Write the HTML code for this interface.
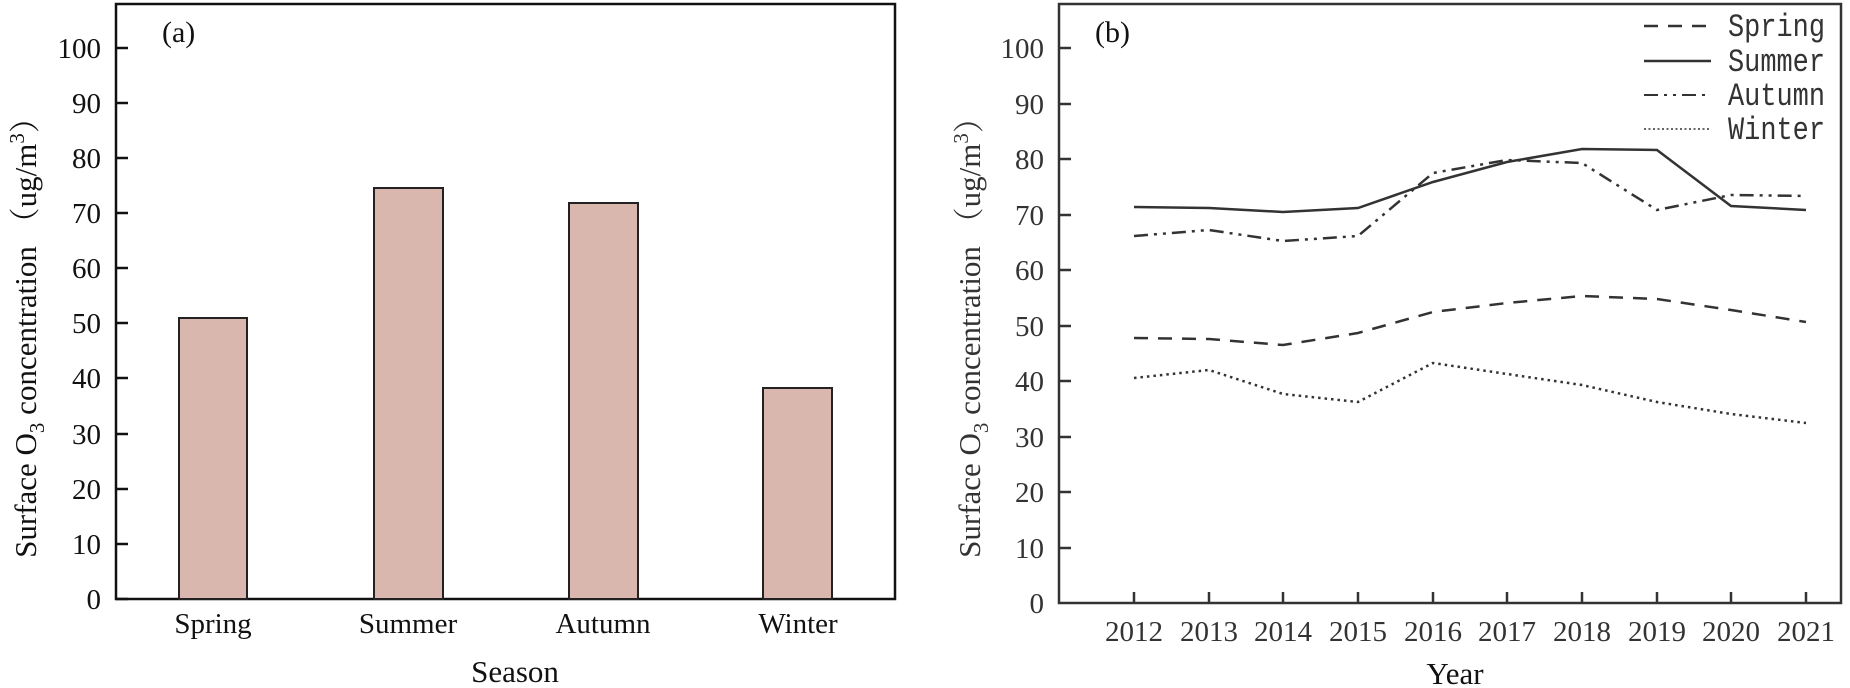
<!DOCTYPE html>
<html><head><meta charset="utf-8"><style>body{margin:0;background:#fff}svg{display:block}</style></head><body>
<svg width="1850" height="688" viewBox="0 0 1850 688" xmlns="http://www.w3.org/2000/svg">
<g font-family="'Liberation Serif','Noto Serif CJK SC',serif" fill="#111">
<!-- Panel a -->
<rect x="116" y="4" width="779" height="595" fill="none" stroke="#111" stroke-width="2.5"/>
<g stroke="#111" stroke-width="2.5">
<line x1="116" y1="599" x2="128" y2="599"/><line x1="116" y1="544" x2="128" y2="544"/><line x1="116" y1="489" x2="128" y2="489"/><line x1="116" y1="434" x2="128" y2="434"/><line x1="116" y1="378" x2="128" y2="378"/><line x1="116" y1="323" x2="128" y2="323"/><line x1="116" y1="268" x2="128" y2="268"/><line x1="116" y1="213" x2="128" y2="213"/><line x1="116" y1="158" x2="128" y2="158"/><line x1="116" y1="103" x2="128" y2="103"/><line x1="116" y1="48" x2="128" y2="48"/>
</g>
<g font-size="29" text-anchor="end">
<text x="101" y="609">0</text><text x="101" y="554">10</text><text x="101" y="499">20</text><text x="101" y="444">30</text><text x="101" y="388">40</text><text x="101" y="333">50</text><text x="101" y="278">60</text><text x="101" y="223">70</text><text x="101" y="168">80</text><text x="101" y="113">90</text><text x="101" y="58">100</text>
</g>
<g fill="#d9b6ae" stroke="#222" stroke-width="2">
<rect x="179" y="318" width="68" height="281"/>
<rect x="374" y="188" width="69" height="411"/>
<rect x="569" y="203" width="69" height="396"/>
<rect x="763" y="388" width="69" height="211"/>
</g>
<g font-size="29" text-anchor="middle">
<text x="213" y="633">Spring</text><text x="408" y="633">Summer</text><text x="603" y="633">Autumn</text><text x="798" y="633">Winter</text>
<text x="515" y="682" font-size="31">Season</text>
</g>
<text x="162" y="42" font-size="30">(a)</text>
<text transform="translate(36,330) rotate(-90)" font-size="31" text-anchor="middle">Surface O<tspan font-size="21" dy="8">3</tspan><tspan dy="-8"> concentration （ug/m</tspan><tspan font-size="21" dy="-12">3</tspan><tspan dy="12">）</tspan></text>

<!-- Panel b -->
<g fill="#333">
<rect x="1059" y="4" width="782" height="599" fill="none" stroke="#333" stroke-width="2.5"/>
<g stroke="#333" stroke-width="2.5">
<line x1="1059" y1="548" x2="1071" y2="548"/><line x1="1059" y1="492" x2="1071" y2="492"/><line x1="1059" y1="437" x2="1071" y2="437"/><line x1="1059" y1="381" x2="1071" y2="381"/><line x1="1059" y1="326" x2="1071" y2="326"/><line x1="1059" y1="270" x2="1071" y2="270"/><line x1="1059" y1="215" x2="1071" y2="215"/><line x1="1059" y1="159" x2="1071" y2="159"/><line x1="1059" y1="104" x2="1071" y2="104"/><line x1="1059" y1="48" x2="1071" y2="48"/>
<line x1="1134" y1="603" x2="1134" y2="592"/><line x1="1209" y1="603" x2="1209" y2="592"/><line x1="1283" y1="603" x2="1283" y2="592"/><line x1="1358" y1="603" x2="1358" y2="592"/><line x1="1433" y1="603" x2="1433" y2="592"/><line x1="1507" y1="603" x2="1507" y2="592"/><line x1="1582" y1="603" x2="1582" y2="592"/><line x1="1657" y1="603" x2="1657" y2="592"/><line x1="1731" y1="603" x2="1731" y2="592"/><line x1="1806" y1="603" x2="1806" y2="592"/>
</g>
<g font-size="29" text-anchor="end">
<text x="1044" y="613">0</text><text x="1044" y="558">10</text><text x="1044" y="502">20</text><text x="1044" y="447">30</text><text x="1044" y="391">40</text><text x="1044" y="336">50</text><text x="1044" y="280">60</text><text x="1044" y="225">70</text><text x="1044" y="169">80</text><text x="1044" y="114">90</text><text x="1044" y="58">100</text>
</g>
<g font-size="29" text-anchor="middle">
<text x="1134" y="641">2012</text><text x="1209" y="641">2013</text><text x="1283" y="641">2014</text><text x="1358" y="641">2015</text><text x="1433" y="641">2016</text><text x="1507" y="641">2017</text><text x="1582" y="641">2018</text><text x="1657" y="641">2019</text><text x="1731" y="641">2020</text><text x="1806" y="641">2021</text>
<text x="1455" y="684" font-size="31" fill="#111">Year</text>
</g>
<text x="1095" y="42" font-size="30" fill="#111">(b)</text>
<text transform="translate(980,330) rotate(-90)" font-size="31" text-anchor="middle">Surface O<tspan font-size="21" dy="8">3</tspan><tspan dy="-8"> concentration （ug/m</tspan><tspan font-size="21" dy="-12">3</tspan><tspan dy="12">）</tspan></text>
<g fill="none" stroke="#333" stroke-width="2.5">
<polyline points="1134,207 1209,208 1283,212 1358,208 1433,182 1507,162 1582,149 1657,150 1731,206 1806,210"/>
<polyline stroke-dasharray="14,6,3,6,3,6" points="1134,236 1209,230 1283,241 1358,236 1433,173 1507,160 1582,163 1657,210 1731,195 1806,196"/>
<polyline stroke-dasharray="14,10" points="1134,338 1209,339 1283,345 1358,333 1433,312 1507,303 1582,296 1657,299 1731,310 1806,322"/>
<polyline stroke-dasharray="2.5,4" points="1134,378 1209,370 1283,394 1358,402 1433,363 1507,374 1582,385 1657,402 1731,414 1806,423"/>
<line x1="1644" y1="26" x2="1711" y2="26" stroke-dasharray="14,10"/>
<line x1="1644" y1="61" x2="1711" y2="61"/>
<line x1="1644" y1="95" x2="1711" y2="95" stroke-dasharray="14,6,3,6,3,6" stroke-width="2"/>
<line x1="1644" y1="129" x2="1711" y2="129" stroke-dasharray="2,2.5" stroke-width="1.5"/>
</g>
<g font-family="'Liberation Mono','Noto Sans CJK SC',monospace" font-size="32">
<text x="1728" y="36" textLength="97" lengthAdjust="spacingAndGlyphs">Spring</text><text x="1728" y="71" textLength="97" lengthAdjust="spacingAndGlyphs">Summer</text><text x="1728" y="105" textLength="97" lengthAdjust="spacingAndGlyphs">Autumn</text><text x="1728" y="139" textLength="97" lengthAdjust="spacingAndGlyphs">Winter</text>
</g>
</g>
</g>
</svg>
</body></html>
